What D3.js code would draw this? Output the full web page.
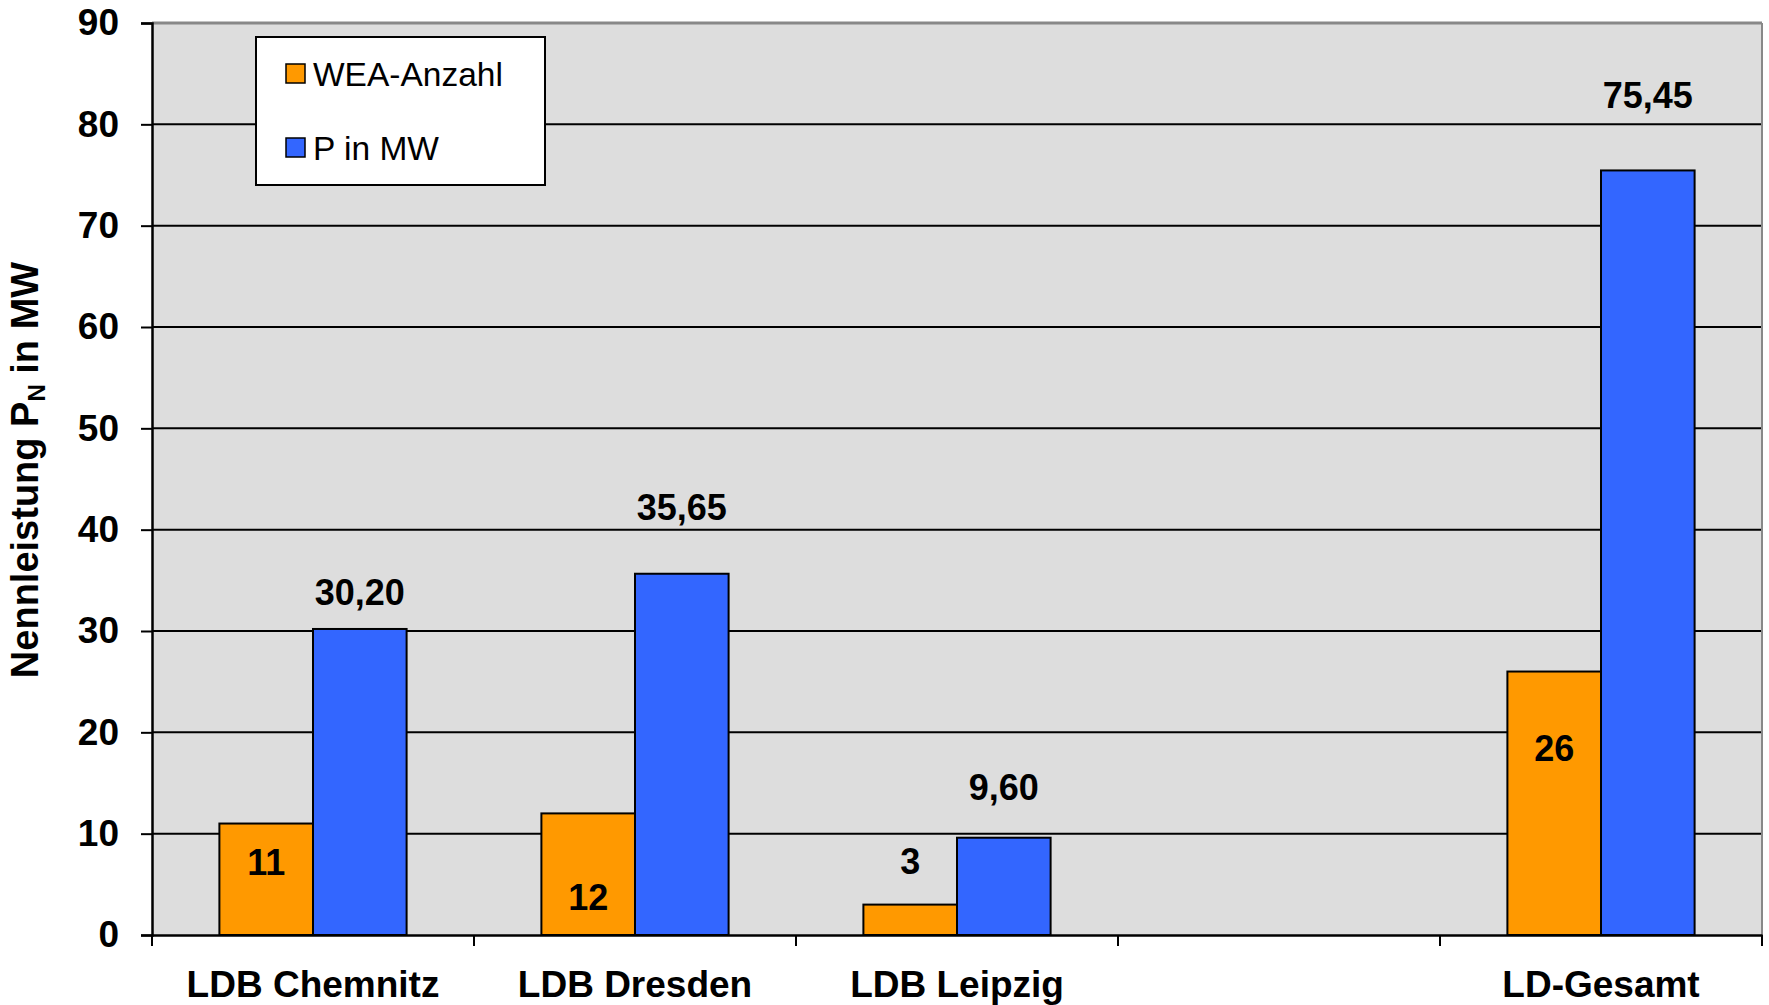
<!DOCTYPE html>
<html><head><meta charset="utf-8">
<script src="https://cdn.jsdelivr.net/npm/d3@7"></script>
<style>
html,body{margin:0;padding:0;background:#fff;}
svg{display:block;font-family:"Liberation Sans",Arial,sans-serif;}
</style></head>
<body>
<svg id="chart" width="1769" height="1005"></svg>
<script>
// ---- data ----
const categories = ["LDB Chemnitz", "LDB Dresden", "LDB Leipzig", " ", "LD-Gesamt"];
const seriesNames = ["WEA-Anzahl", "P in MW"];
const weaAnzahl = [11, 12, 3, null, 26];
const pInMW = [30.20, 35.65, 9.60, null, 75.45];
const weaLabels = ["11", "12", "3", null, "26"];
const pLabels = ["30,20", "35,65", "9,60", null, "75,45"];
// label anchor heights (value units)
const weaLabelAt = [5.9, 2.5, 6.0, null, 17.2];
const pLabelAt = [32.6, 41.0, 13.3, null, 81.6];
const yTicks = [0, 10, 20, 30, 40, 50, 60, 70, 80, 90];
const yTitle = "Nennleistung P";
const yTitleSub = "N";
const yTitleEnd = " in MW";

const colors = {"WEA-Anzahl": "#FF9900", "P in MW": "#3366FF"};

const svg = d3.select("#chart");
const L = 152, R = 1762, T = 23, B = 935;

const x = d3.scaleBand().domain(categories).range([L, R]).padding(0);
const xs = d3.scaleBand().domain(seriesNames).range([0, x.bandwidth()]).paddingInner(0).paddingOuter(0.72);
const y = d3.scaleLinear().domain([0, 90]).range([B, T]);

// plot background
svg.append("rect").attr("x", L).attr("y", T).attr("width", R - L).attr("height", B - T).attr("fill", "#DDDDDD");

// gridlines
svg.append("g").selectAll("line").data(yTicks.filter(d => d > 0 && d < 90)).join("line")
  .attr("x1", L).attr("x2", R).attr("y1", d => y(d)).attr("y2", d => y(d))
  .attr("stroke", "#000").attr("stroke-width", 2);

// top & right border
svg.append("line").attr("x1", L).attr("x2", R).attr("y1", T).attr("y2", T).attr("stroke", "#888").attr("stroke-width", 3);
svg.append("line").attr("x1", R).attr("x2", R).attr("y1", T).attr("y2", B).attr("stroke", "#888").attr("stroke-width", 2);

// bars
const rows = categories.map((c, i) => ({c, i, vals: [weaAnzahl[i], pInMW[i]]}));
const groups = svg.append("g").selectAll("g").data(rows).join("g").attr("transform", d => `translate(${x(d.c)},0)`);
groups.selectAll("rect").data(d => d.vals.map((v, j) => ({v, s: seriesNames[j]})).filter(e => e.v != null)).join("rect")
  .attr("x", e => xs(e.s)).attr("width", xs.bandwidth())
  .attr("y", e => y(e.v)).attr("height", e => y(0) - y(e.v))
  .attr("fill", e => colors[e.s]).attr("stroke", "#000").attr("stroke-width", 2);

// y axis
const yAxis = d3.axisLeft(y).tickValues(yTicks).tickSize(11).tickFormat(d3.format("d"));
const gy = svg.append("g").attr("transform", `translate(${L},0)`).call(yAxis);
gy.select(".domain").attr("stroke", "#000").attr("stroke-width", 2.5);
gy.selectAll(".tick line").attr("stroke", "#000").attr("stroke-width", 2);
gy.selectAll(".tick text").attr("x", -33).attr("font-size", 37).attr("font-weight", "bold").attr("fill", "#000")
  .attr("font-family", "'Liberation Sans', Arial, sans-serif");

// x axis
const xAxis = d3.axisBottom(x).tickSize(0).tickFormat(d => d);
const gx = svg.append("g").attr("transform", `translate(0,${B})`).call(xAxis);
gx.select(".domain").attr("stroke", "#000").attr("stroke-width", 2.5);
gx.selectAll(".tick text").attr("y", 62).attr("dy", 0).attr("font-size", 37).attr("font-weight", "bold").attr("fill", "#000")
  .attr("font-family", "'Liberation Sans', Arial, sans-serif");
// band boundary ticks
const bounds = categories.map(c => x(c)).concat([x.range()[1]]);
svg.append("g").selectAll("line").data(bounds).join("line")
  .attr("x1", d => d).attr("x2", d => d).attr("y1", B).attr("y2", B + 11)
  .attr("stroke", "#000").attr("stroke-width", 2);

// value labels
const lab = svg.append("g").attr("font-size", 36).attr("font-weight", "bold").attr("fill", "#000").attr("text-anchor", "middle");
rows.forEach((d, i) => {
  if (weaLabels[i] != null) {
    lab.append("text").attr("x", x(d.c) + xs(seriesNames[0]) + xs.bandwidth() / 2).attr("y", y(weaLabelAt[i])).text(weaLabels[i]);
  }
  if (pLabels[i] != null) {
    lab.append("text").attr("x", x(d.c) + xs(seriesNames[1]) + xs.bandwidth() / 2).attr("y", y(pLabelAt[i])).text(pLabels[i]);
  }
});

// legend
const lg = svg.append("g");
lg.append("rect").attr("x", 256).attr("y", 37).attr("width", 289).attr("height", 148).attr("fill", "#fff").attr("stroke", "#000").attr("stroke-width", 2);
const legY = [74, 148];
seriesNames.forEach((s, i) => {
  lg.append("rect").attr("x", 286).attr("y", legY[i] - 10).attr("width", 19).attr("height", 19).attr("fill", colors[s]).attr("stroke", "#000").attr("stroke-width", 1.5);
  lg.append("text").attr("x", 313).attr("y", legY[i] + 12).attr("font-size", 33.5).attr("fill", "#000").text(s);
});

// y title
const yt = svg.append("text").attr("transform", "translate(38,470) rotate(-90)").attr("text-anchor", "middle")
  .attr("font-size", 38).attr("font-weight", "bold").attr("fill", "#000");
yt.append("tspan").text(yTitle);
yt.append("tspan").attr("font-size", 24).attr("dy", 7).text(yTitleSub);
yt.append("tspan").attr("dy", -7).text(yTitleEnd);
</script>
</body></html>
